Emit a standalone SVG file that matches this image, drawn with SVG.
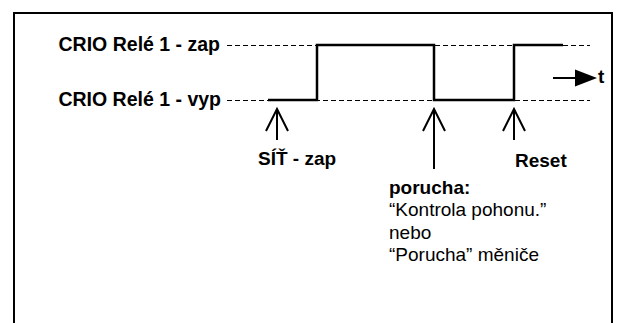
<svg xmlns="http://www.w3.org/2000/svg" width="617" height="323" viewBox="0 0 617 323">
<style>
.b{font-family:"Liberation Sans",Arial,sans-serif;font-weight:bold;font-size:19px;fill:#000}
.lb{font-size:19.5px}
.r{font-family:"Liberation Sans",Arial,sans-serif;font-size:19px;fill:#000}
.dash{stroke:#000;stroke-width:1;stroke-dasharray:5,3;fill:none}
.wave{stroke:#000;stroke-width:2.5;fill:none}
.arr{stroke:#000;stroke-width:2;fill:none}
</style>
<rect x="0" y="0" width="617" height="323" fill="#fff"/>
<path d="M14,330 V13 H612 V330" fill="none" stroke="#000" stroke-width="2"/>
<g id="label-zap"><text class="b lb" x="220" y="51" text-anchor="end">CRIO Relé 1 - zap</text></g>
<g id="label-vyp"><text class="b lb" x="221" y="106" text-anchor="end">CRIO Relé 1 - vyp</text></g>
<g id="connectors">
<line class="dash" x1="227" y1="45.5" x2="590" y2="45.5"/>
<line class="dash" x1="227" y1="100.5" x2="590" y2="100.5"/>
<path class="wave" d="M268,100 H317 V45 H434 V100 H514 V45 H563"/>
<line x1="553" y1="78" x2="577" y2="78" stroke="#000" stroke-width="2"/>
<polygon points="575,69.5 597,78 575,86.5" fill="#000"/>
<path class="arr" d="M277,140 V109 M266,131 L277,109 L288,131"/>
<path class="arr" d="M434,169 V109 M423,131 L434,109 L445,131"/>
<path class="arr" d="M514,140 V109 M503,131 L514,109 L525,131"/>
</g>
<g id="label-t"><text class="b" x="598" y="83">t</text></g>
<g id="label-sit"><text class="b" x="258" y="165">SÍŤ - zap</text></g>
<g id="label-reset"><text class="b" x="515" y="167">Reset</text></g>
<g id="label-porucha">
<text class="b" x="389" y="194">porucha:</text>
<text class="r" x="389" y="216">“Kontrola pohonu.”</text>
<text class="r" x="389" y="239">nebo</text>
<text class="r" x="389" y="261">“Porucha” měniče</text>
</g>
</svg>
